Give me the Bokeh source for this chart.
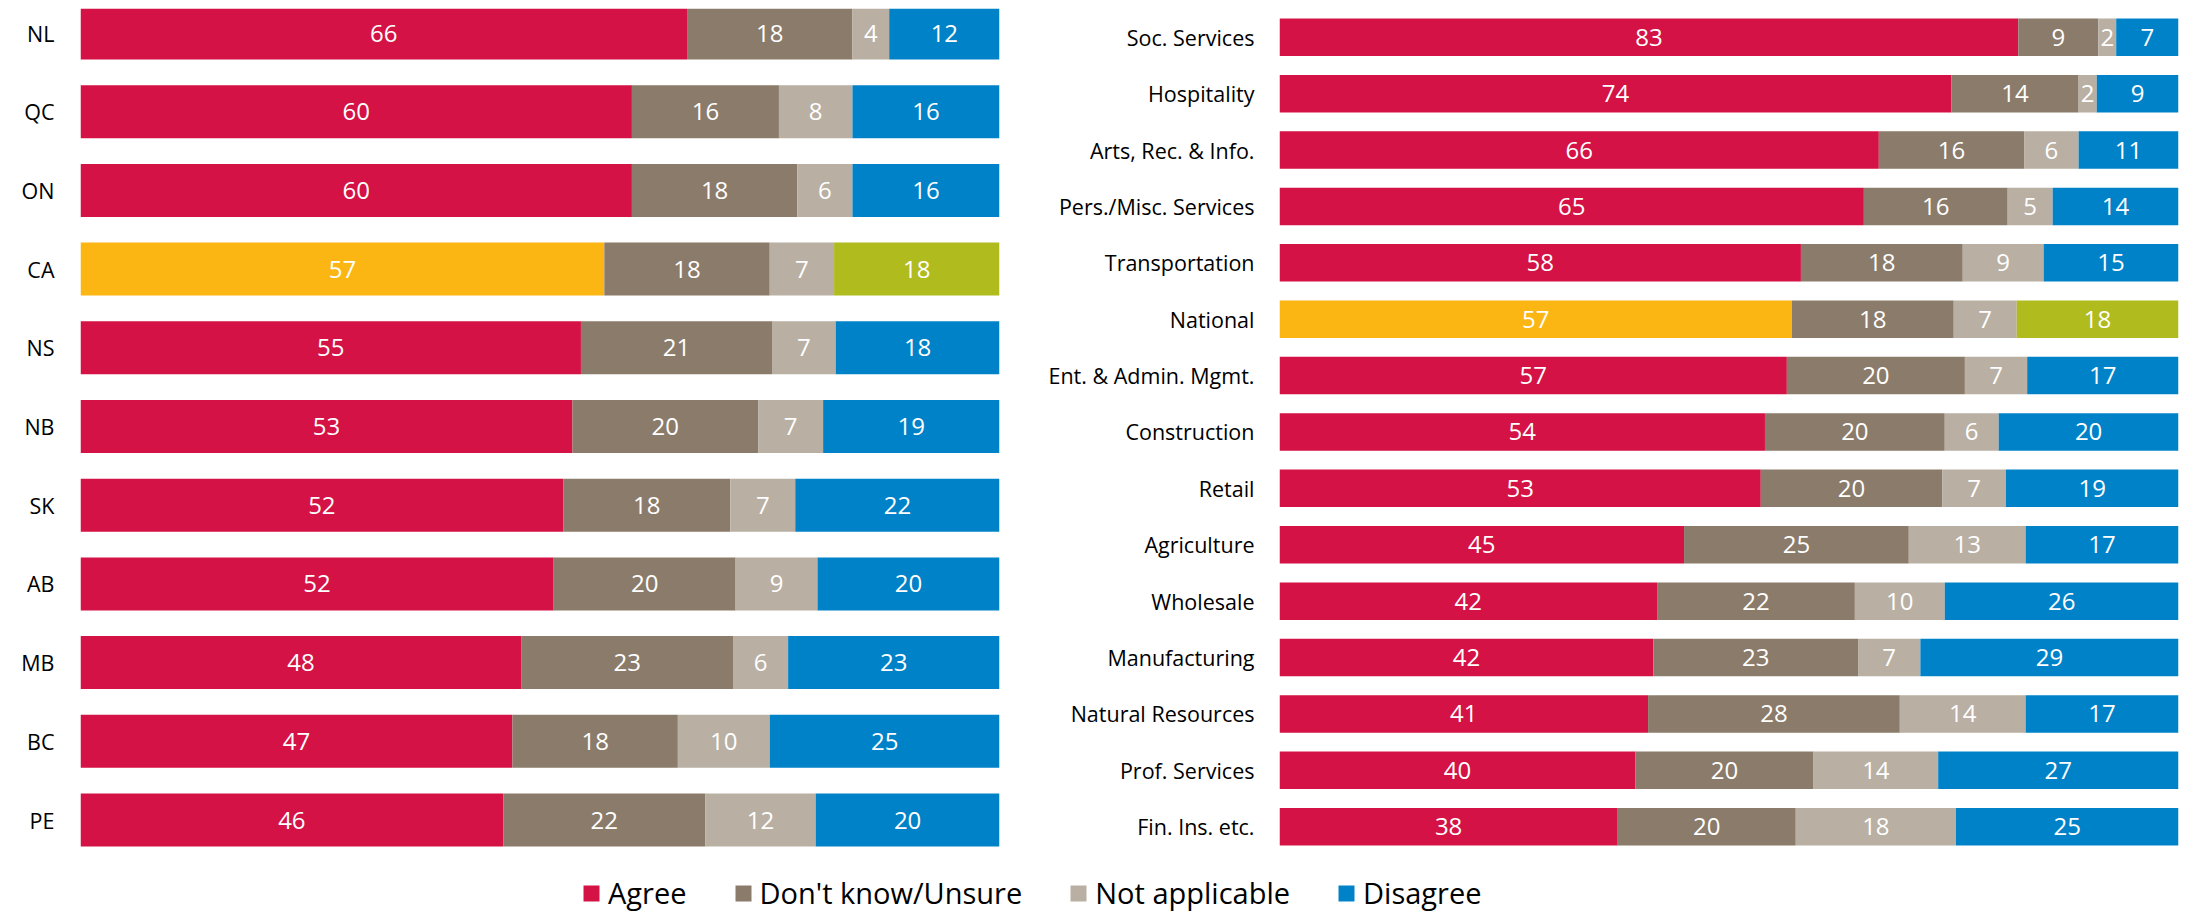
from bokeh.plotting import figure
from bokeh.layouts import column, row
from bokeh.models import ColumnDataSource, Range1d, FixedTicker, Legend, LegendItem
from bokeh.core.properties import value
from bokeh.embed import file_html
from bokeh.resources import INLINE

series = ["Agree", "Don't know/Unsure", "Not applicable", "Disagree"]
colors = ["#D41245", "#8B7B6A", "#B9AFA3", "#0082C8"]
highlight_colors = ["#FCB614", "#8B7B6A", "#B9AFA3", "#B0BB1E"]

prov = ["NL", "QC", "ON", "CA", "NS", "NB", "SK", "AB", "MB", "BC", "PE"]
prov_agree = [66, 60, 60, 57, 55, 53, 52, 52, 48, 47, 46]
prov_unsure = [18, 16, 18, 18, 21, 20, 18, 20, 23, 18, 22]
prov_na = [4, 8, 6, 7, 7, 7, 7, 9, 6, 10, 12]
prov_disagree = [12, 16, 16, 18, 18, 19, 22, 20, 23, 25, 20]
prov_highlight = "CA"

ind = ["Soc. Services", "Hospitality", "Arts, Rec. & Info.", "Pers./Misc. Services",
       "Transportation", "National", "Ent. & Admin. Mgmt.", "Construction", "Retail",
       "Agriculture", "Wholesale", "Manufacturing", "Natural Resources",
       "Prof. Services", "Fin. Ins. etc."]
ind_agree = [83, 74, 66, 65, 58, 57, 57, 54, 53, 45, 42, 42, 41, 40, 38]
ind_unsure = [9, 14, 16, 16, 18, 18, 20, 20, 20, 25, 22, 23, 28, 20, 20]
ind_na = [2, 2, 6, 5, 9, 7, 7, 6, 7, 13, 10, 7, 14, 14, 18]
ind_disagree = [7, 9, 11, 14, 15, 18, 17, 20, 19, 17, 26, 29, 17, 27, 25]
ind_highlight = "National"

FONT = "Open Sans"
LABEL_SIZE = "21.5px"
VALUE_SIZE = "24px"
TOP_PAD = 8
FRAME_H = 840
BOTTOM_PAD = 18
TOP_H = TOP_PAD + FRAME_H + BOTTOM_PAD


def make_panel(cats, vals, hl, width, b_left, b_right, pitch, first_center, bar_frac, standoff):
    n = len(cats)
    top = -first_center / pitch
    bottom = top + FRAME_H / pitch
    p = figure(width=width, height=TOP_H, x_range=Range1d(0, 100),
               y_range=Range1d(bottom, top), output_backend="svg",
               toolbar_location=None, min_border_left=b_left, min_border_right=b_right,
               min_border_top=TOP_PAD, min_border_bottom=BOTTOM_PAD)
    ys = list(range(n))
    totals = [sum(v[i] for v in vals) for i in range(n)]
    cum = [0.0] * n
    for k, v in enumerate(vals):
        left = [cum[i] / totals[i] * 100 for i in range(n)]
        right = [(cum[i] + v[i]) / totals[i] * 100 for i in range(n)]
        cols = [highlight_colors[k] if cats[i] == hl else colors[k] for i in range(n)]
        src = ColumnDataSource(dict(y=ys, left=left, right=right, color=cols,
                                    mid=[(a + b) / 2 for a, b in zip(left, right)],
                                    label=[str(x) for x in v]))
        p.hbar(y="y", left="left", right="right", height=bar_frac, color="color",
               line_color=None, source=src)
        p.text(x="mid", y="y", text="label", source=src, text_align="center",
               text_baseline="middle", text_color="white", text_font=value(FONT),
               text_font_size=VALUE_SIZE)
        cum = [cum[i] + v[i] for i in range(n)]
    p.xaxis.visible = False
    p.grid.visible = False
    p.outline_line_color = None
    ax = p.yaxis[0]
    ax.ticker = FixedTicker(ticks=ys)
    ax.major_label_overrides = {i: c for i, c in enumerate(cats)}
    ax.axis_line_color = None
    ax.major_tick_line_color = None
    ax.minor_tick_line_color = None
    ax.major_tick_out = 0
    ax.major_tick_in = 0
    ax.major_label_standoff = standoff
    ax.major_label_text_font = FONT
    ax.major_label_text_font_size = LABEL_SIZE
    ax.major_label_text_color = "black"
    return p


left = make_panel(prov, [prov_agree, prov_unsure, prov_na, prov_disagree], prov_highlight,
                  1040, 80, 41, 78.7, 24.5, 0.673, 26)
right = make_panel(ind, [ind_agree, ind_unsure, ind_na, ind_disagree], ind_highlight,
                   1145, 239, 7, 56.39, 28.75, 0.665, 25)

lp = figure(width=2185, height=46, x_range=Range1d(0, 1), y_range=Range1d(0, 1),
            output_backend="svg", toolbar_location=None, min_border=0,
            x_axis_type=None, y_axis_type=None)
lp.grid.visible = False
lp.outline_line_color = None
items = []
for s, c in zip(series, colors):
    r = lp.hbar(y=[0.5], left=[0.4], right=[0.6], height=0.5, color=c, line_color=None)
    r.visible = False
    items.append(LegendItem(label=s, renderers=[r]))
legend = Legend(items=items, orientation="horizontal", location=(581, 0),
                glyph_width=20, glyph_height=20, label_standoff=7, spacing=46,
                padding=0, margin=0, border_line_color=None, background_fill_alpha=0,
                label_text_font=FONT, label_text_font_size="29px",
                label_text_color="black")
lp.add_layout(legend)

layout = column(row(left, right), lp)
open("out.html", "w").write(file_html(layout, INLINE))
